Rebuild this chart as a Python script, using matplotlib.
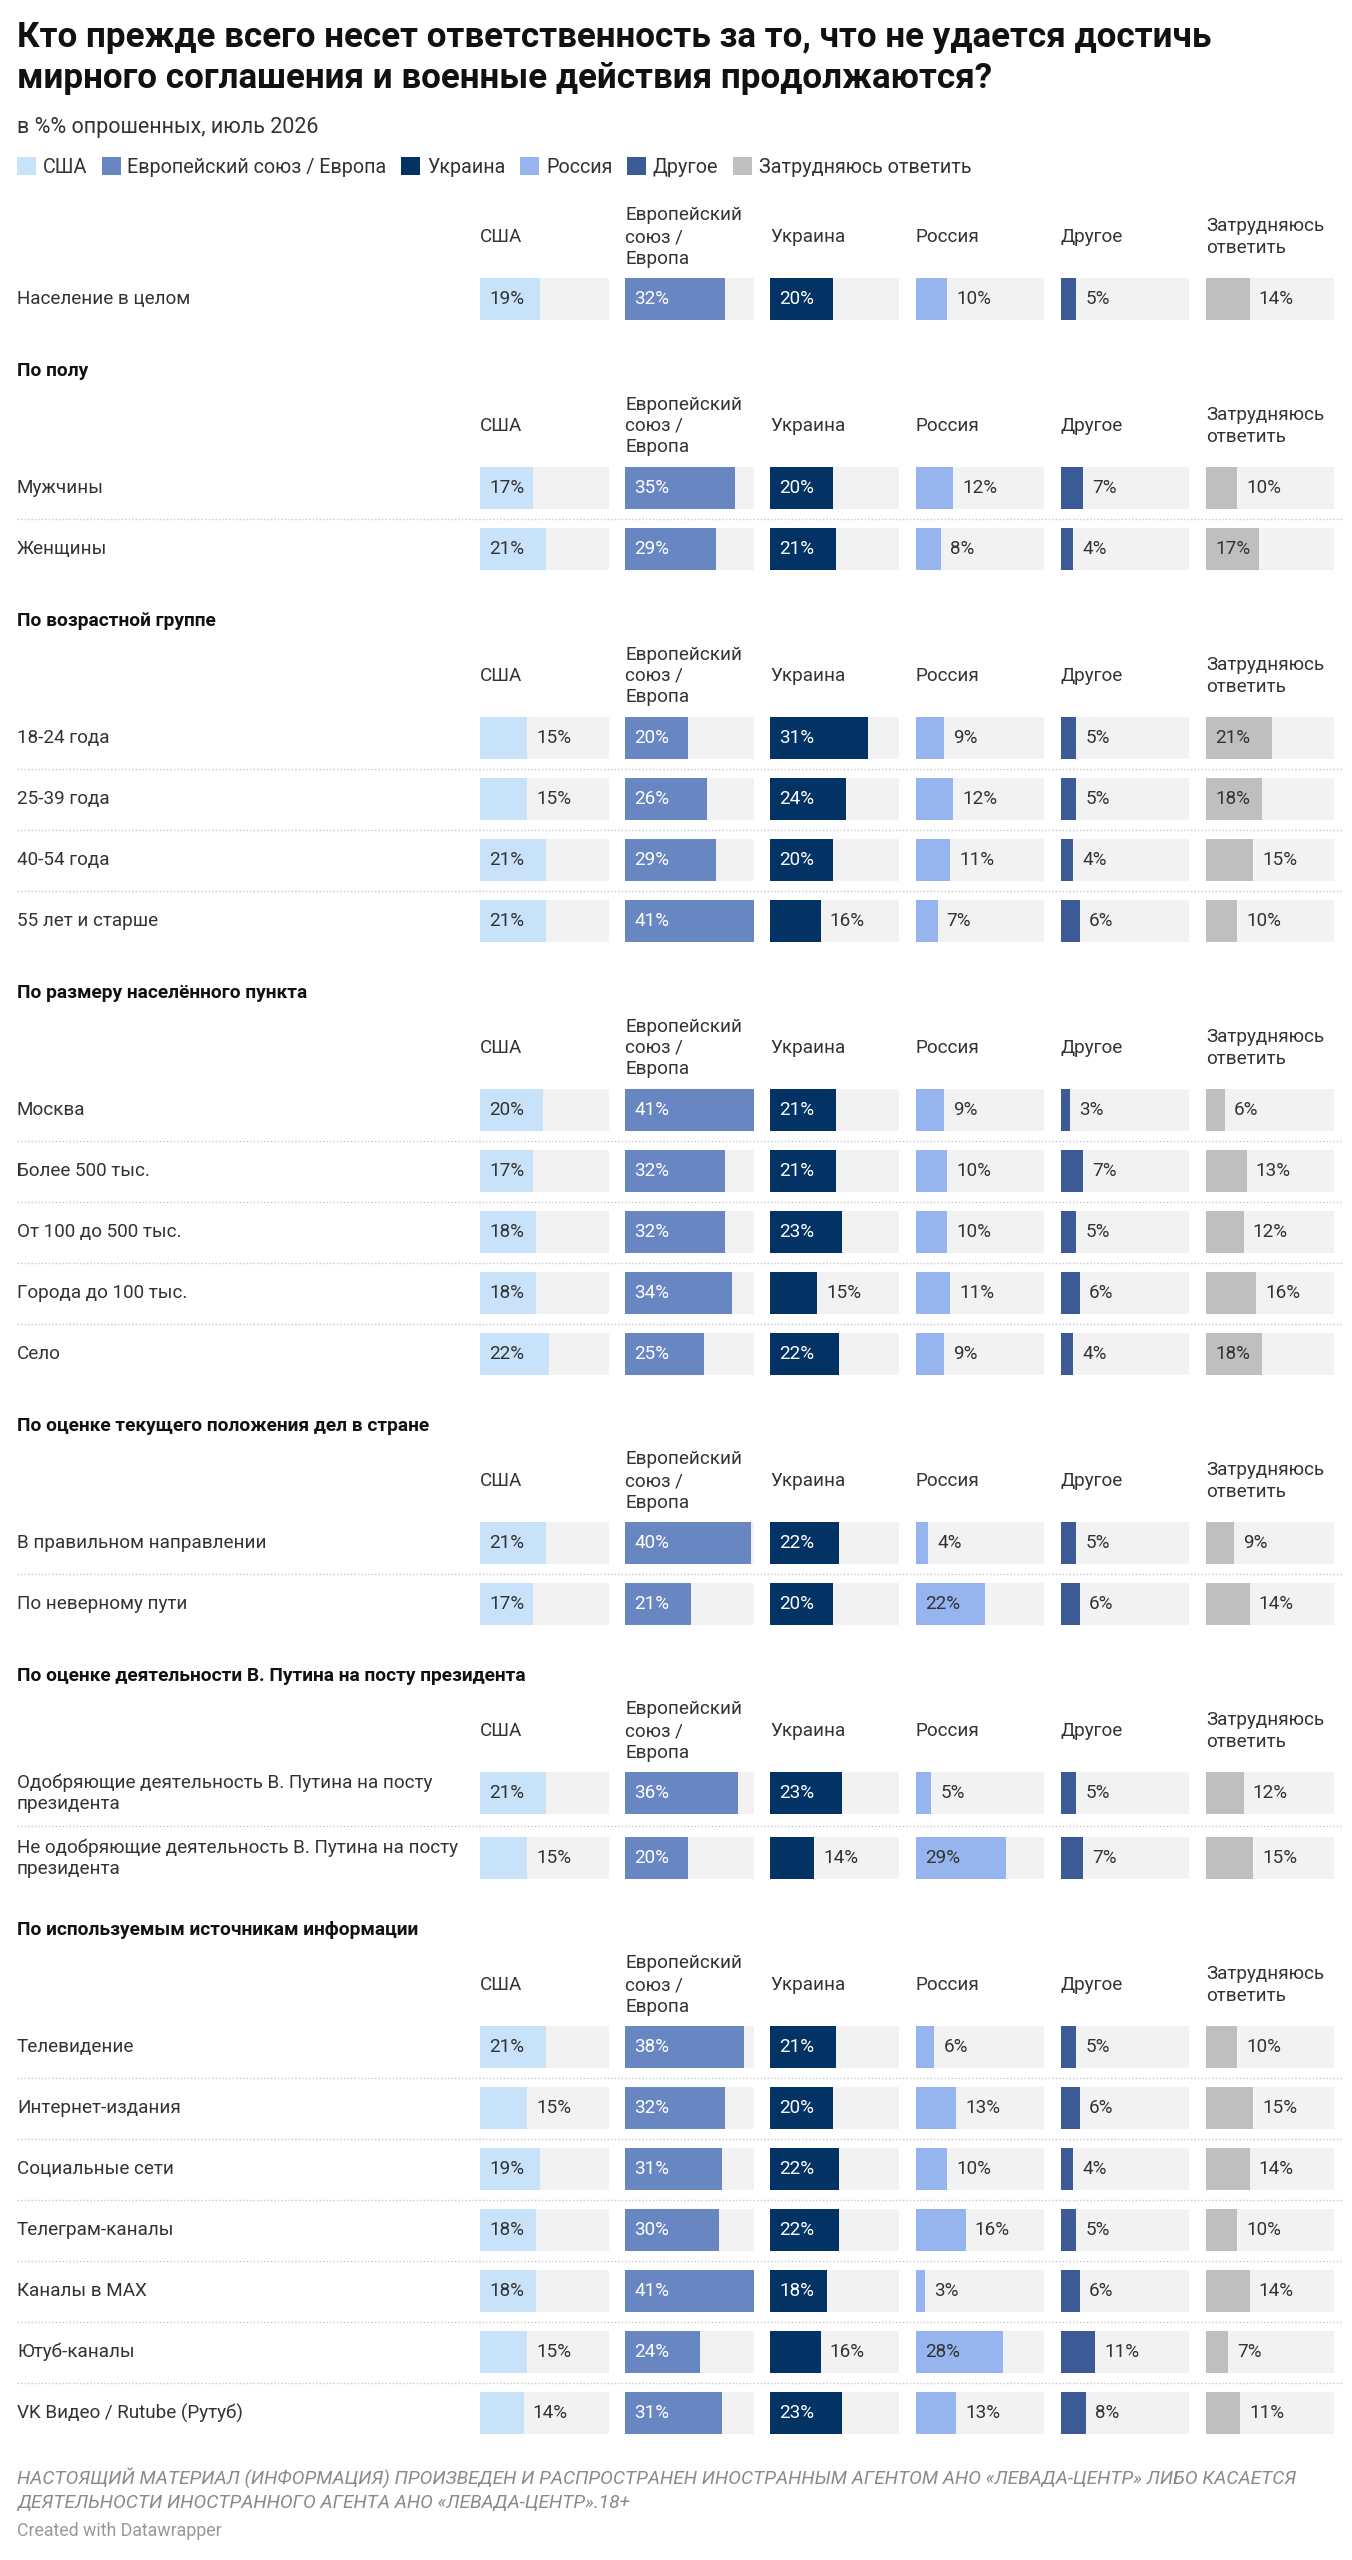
import matplotlib
matplotlib.use("Agg")
import matplotlib.pyplot as plt
from matplotlib.patches import Patch

plt.rcParams['font.family'] = ['Roboto', 'DejaVu Sans']

W, H = 1352, 2560

# --- data ---
column_heads = ["США", "Европейский\nсоюз /\nЕвропа", "Украина", "Россия", "Другое", "Затрудняюсь\nответить"]
legend_names = ["США", "Европейский союз / Европа", "Украина", "Россия", "Другое", "Затрудняюсь ответить"]

group_titles = [None, "По полу", "По возрастной группе", "По размеру населённого пункта",
                "По оценке текущего положения дел в стране",
                "По оценке деятельности В. Путина на посту президента",
                "По используемым источникам информации"]
group_sizes = [1, 2, 4, 5, 2, 2, 7]

row_labels = ["Население в целом",
              "Мужчины", "Женщины",
              "18-24 года", "25-39 года", "40-54 года", "55 лет и старше",
              "Москва", "Более 500 тыс.", "От 100 до 500 тыс.", "Города до 100 тыс.", "Село",
              "В правильном направлении", "По неверному пути",
              "Одобряющие деятельность В. Путина на посту\nпрезидента",
              "Не одобряющие деятельность В. Путина на посту\nпрезидента",
              "Телевидение", "Интернет-издания", "Социальные сети", "Телеграм-каналы",
              "Каналы в MAX", "Ютуб-каналы", "VK Видео / Rutube (Рутуб)"]

usa     = [19, 17, 21, 15, 15, 21, 21, 20, 17, 18, 18, 22, 21, 17, 21, 15, 21, 15, 19, 18, 18, 15, 14]
europe  = [32, 35, 29, 20, 26, 29, 41, 41, 32, 32, 34, 25, 40, 21, 36, 20, 38, 32, 31, 30, 41, 24, 31]
ukraine = [20, 20, 21, 31, 24, 20, 16, 21, 21, 23, 15, 22, 22, 20, 23, 14, 21, 20, 22, 22, 18, 16, 23]
russia  = [10, 12, 8, 9, 12, 11, 7, 9, 10, 10, 11, 9, 4, 22, 5, 29, 6, 13, 10, 16, 3, 28, 13]
other   = [5, 7, 4, 5, 5, 4, 6, 3, 7, 5, 6, 4, 5, 6, 5, 7, 5, 6, 4, 5, 6, 11, 8]
unsure  = [14, 10, 17, 21, 18, 15, 10, 6, 13, 12, 16, 18, 9, 14, 12, 15, 10, 15, 14, 10, 14, 7, 11]
series = [usa, europe, ukraine, russia, other, unsure]

colors = ["#c8e2fa", "#6886c2", "#033264", "#96b4ee", "#3b5a96", "#bfbfbf"]
inner_text = ["#333333", "white", "white", "#333333", "white", "#333333"]
track = "#f2f2f2"
txt = "#333333"

# --- layout (pixels) ---
fig = plt.figure(figsize=(W / 100, H / 100), dpi=100)
fig.patch.set_facecolor("white")
main = fig.add_axes([0, 0, 1, 1])
main.set_xlim(0, W)
main.set_ylim(H, 0)
main.axis("off")

left = 17
col_x0, col_step, col_w = 480, 145.2, 128.5
bar_h = 42
fs = 13.6
vmax = max(max(s) for s in series)

# row positions
row_y, head_y, colhead_y, seps = [], [], [], []
g = 182
i = 0
for gi, n in enumerate(group_sizes):
    head_y.append(g)
    colhead_y.append(g + 55)
    y = g + 117
    prev = None
    for k in range(n):
        two = "\n" in row_labels[i]
        if prev is not None:
            step = 65 if two else 61
            seps.append(prev + step / 2)
            y = prev + step
        row_y.append(y)
        prev = y
        i += 1
    g = prev + 72

# title, subtitle
main.text(left, 47, "Кто прежде всего несет ответственность за то, что не удается достичь",
          fontsize=25.2, weight="bold", color="#111111", va="baseline")
main.text(left, 88, "мирного соглашения и военные действия продолжаются?",
          fontsize=25.2, weight="bold", color="#111111", va="baseline")
main.text(left, 133, "в %% опрошенных, июль 2026", fontsize=15.5, color=txt, va="baseline")

handles = [Patch(facecolor=c, edgecolor="none", label=n) for c, n in zip(colors, legend_names)]
fig.legend(handles=handles, loc="upper left", bbox_to_anchor=(left / W, 1 - 157 / H),
           ncol=6, frameon=False, fontsize=14.2, handlelength=0.95, handleheight=1.05,
           handletextpad=0.35, columnspacing=0.75, borderpad=0, borderaxespad=0,
           labelcolor=txt)

# group headers and column headers
for gi in range(len(group_sizes)):
    if group_titles[gi]:
        main.text(left, head_y[gi], group_titles[gi], fontsize=13.8, weight="bold",
                  color="#111111", va="center")
    for j, h in enumerate(column_heads):
        main.text(col_x0 + j * col_step, colhead_y[gi], h, fontsize=fs, color=txt,
                  va="center", linespacing=1.25)

for lab, y in zip(row_labels, row_y):
    main.text(left, y, lab, fontsize=fs, color=txt, va="center", linespacing=1.2)

for y in seps:
    main.plot([left, W - 10], [y, y], color="#c8c8c8", lw=1, ls=(0, (1, 1.5)))

# bars per column
for j, vals in enumerate(series):
    ax = fig.add_axes([(col_x0 + j * col_step) / W, 0, col_w / W, 1])
    ax.set_xlim(0, vmax)
    ax.set_ylim(H, 0)
    ax.axis("off")
    ax.barh(row_y, [vmax] * len(row_y), height=bar_h, color=track, lw=0)
    ax.barh(row_y, vals, height=bar_h, color=colors[j], lw=0)
    for v, y in zip(vals, row_y):
        if v >= 17:
            ax.annotate(f"{v}%", xy=(0, y), xytext=(6.5, 0), textcoords="offset points",
                        ha="left", va="center", fontsize=fs, color=inner_text[j])
        else:
            ax.annotate(f"{v}%", xy=(v, y), xytext=(6.5, 0), textcoords="offset points",
                        ha="left", va="center", fontsize=fs, color=txt)

# footer
main.text(left, 2478, "НАСТОЯЩИЙ МАТЕРИАЛ (ИНФОРМАЦИЯ) ПРОИЗВЕДЕН И РАСПРОСТРАНЕН ИНОСТРАННЫМ АГЕНТОМ АНО «ЛЕВАДА-ЦЕНТР» ЛИБО КАСАЕТСЯ",
          fontsize=13.8, style="italic", color="#8a8a8a", va="center")
main.text(left, 2503, "ДЕЯТЕЛЬНОСТИ ИНОСТРАННОГО АГЕНТА АНО «ЛЕВАДА-ЦЕНТР».18+",
          fontsize=13.8, style="italic", color="#8a8a8a", va="center")
main.text(left, 2531, "Created with Datawrapper", fontsize=12.8, color="#999999", va="center")

fig.savefig("out.png", dpi=100, facecolor="white")
